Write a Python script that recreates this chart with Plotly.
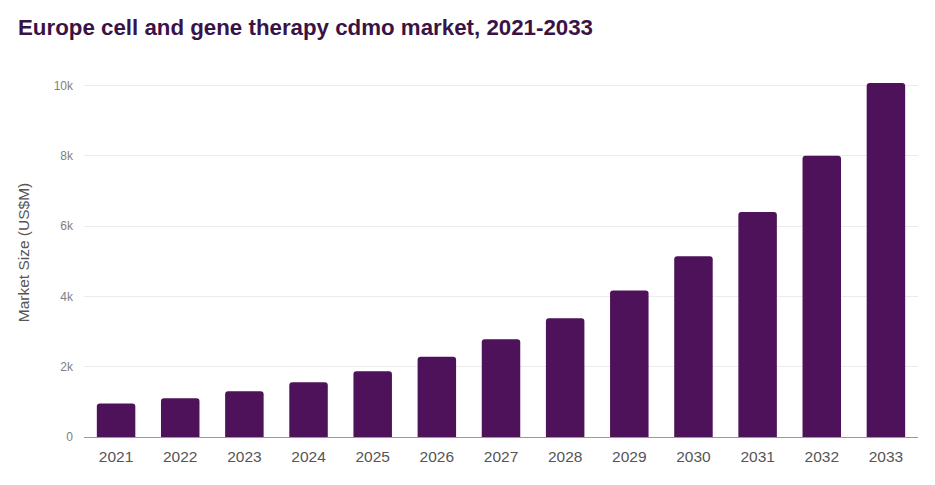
import plotly.graph_objects as go

# Données (US$M)
years = ['2021', '2022', '2023', '2024', '2025', '2026', '2027',
         '2028', '2029', '2030', '2031', '2032', '2033']
market_size = [950, 1100, 1300, 1560, 1870, 2280, 2780,
               3380, 4170, 5140, 6400, 8000, 10070]
y_ticks = [0, 2000, 4000, 6000, 8000, 10000]
y_tick_labels = ['0', '2k', '4k', '6k', '8k', '10k']

BAR_COLOR = '#4d1259'

# la page ajoute une marge de 8px autour de la figure
W, H = 927, 477

fig = go.Figure()

fig.add_trace(
    go.Bar(
        x=years,
        y=market_size,
        marker=dict(color=BAR_COLOR, cornerradius=3, line=dict(width=0)),
        width=0.6,
        hovertemplate='%{x}: %{y}<extra></extra>',
    )
)

fig.update_layout(
    title=dict(
        text='<b>Europe cell and gene therapy cdmo market, 2021-2033</b>',
        x=10 / W, xanchor='left', y=1 - 19 / H, yanchor='middle',
        font=dict(family='Liberation Sans, Arial, sans-serif', size=22.3, color='#3a1346'),
    ),
    width=W,
    height=H,
    margin=dict(l=76, r=17, t=60, b=48),
    plot_bgcolor='white',
    paper_bgcolor='white',
    showlegend=False,
    font=dict(family='Liberation Sans, Arial, sans-serif'),
)

fig.update_xaxes(
    showgrid=False,
    showline=True,
    linecolor='#999999',
    linewidth=1,
    ticks='',
    ticklabelstandoff=5,
    tickfont=dict(size=15.5, color='#555555'),
)

fig.update_yaxes(
    range=[0, 10500],
    tickvals=y_ticks,
    ticktext=y_tick_labels,
    showgrid=True,
    gridcolor='#ebebeb',
    gridwidth=1,
    zeroline=False,
    showline=False,
    ticks='',
    ticklabelstandoff=10,
    tickfont=dict(size=12, color='#808080'),
    title=dict(text='Market Size (US$M)', font=dict(size=15.5, color='#555555'), standoff=20),
)

fig.write_html("out.html")
